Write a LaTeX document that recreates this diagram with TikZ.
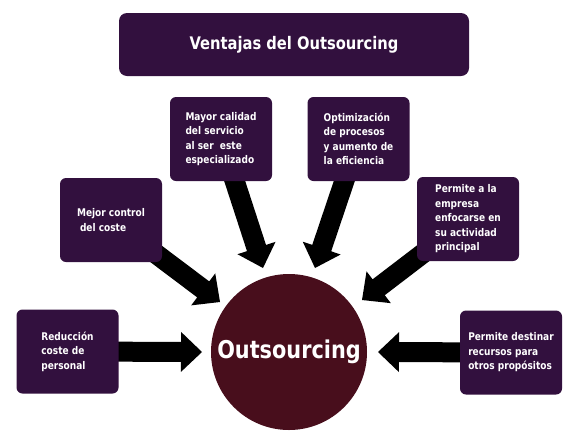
\documentclass[tikz,border=0pt]{standalone}
\usepackage{fontspec}
\setmainfont{DejaVu Sans}
\newfontfamily\boxfont{DejaVu Sans}[FakeStretch=0.85]
\usetikzlibrary{calc,backgrounds}
\definecolor{boxpurple}{RGB}{50,16,62}
\definecolor{circred}{RGB}{72,14,28}
\tikzset{
  benefit/.style={fill=boxpurple, rounded corners=6pt, minimum width=102pt,
    minimum height=84pt, inner sep=0pt, text=white, align=left,
    font=\boxfont\bfseries\fontsize{10.6}{14.5}\selectfont},
  titlebox/.style={fill=boxpurple, rounded corners=8pt, minimum width=350pt,
    minimum height=63pt, inner sep=0pt, text=white,
    font=\boxfont\bfseries\fontsize{17.3}{20}\selectfont},
  hub/.style={circle, fill=circred, minimum size=156pt, inner sep=0pt,
    text=white, font=\boxfont\bfseries\fontsize{24.5}{28}\selectfont},
  arrowfill/.style={fill=black}
}
\newcommand\blockarrow[2]{%
  \coordinate (hb) at ($(#2)!21pt!(#1.center)$);
  \fill[arrowfill] ($(#1.center)!10pt!90:(#2)$) -- ($(hb)!10pt!90:(#2)$)
    -- ($(hb)!20pt!90:(#2)$) -- (#2) -- ($(hb)!20pt!-90:(#2)$)
    -- ($(hb)!10pt!-90:(#2)$) -- ($(#1.center)!10pt!-90:(#2)$) -- cycle;
}
\begin{document}
\begin{tikzpicture}[x=1pt,y=-1pt]
\useasboundingbox (0,0) rectangle (570,437);
\node[titlebox] (title) at (294,44.5) {Ventajas del Outsourcing};
\node[hub] (circ) at (289,352) {Outsourcing};
\node[benefit] (b1) at (67.5,351.5) {Reducción\\coste de\\personal};
\node[benefit] (b2) at (111,220) {Mejor control\\\hspace*{3pt}del coste};
\node[benefit] (b3) at (221,139) {Mayor calidad\\del servicio\\al ser\ \ este\\especializado};
\node[benefit] (b4) at (358.5,139) {Optimización\\de procesos\\y aumento de\\la eficiencia};
\node[benefit] (b5) at (468,219) {Permite a la\\empresa\\enfocarse en\\su actividad\\principal};
\node[benefit] (b6) at (511,352.5) {Permite destinar\\recursos para\\otros propósitos};
\coordinate (t1) at (202,352);
\coordinate (t2) at (220,302);
\coordinate (t3) at (263,268);
\coordinate (t4) at (315,268);
\coordinate (t5) at (362,300);
\coordinate (t6) at (378,352);
\begin{pgfonlayer}{background}
\blockarrow{b1}{t1}
\blockarrow{b2}{t2}
\blockarrow{b3}{t3}
\blockarrow{b4}{t4}
\blockarrow{b5}{t5}
\blockarrow{b6}{t6}
\end{pgfonlayer}
\end{tikzpicture}
\end{document}
